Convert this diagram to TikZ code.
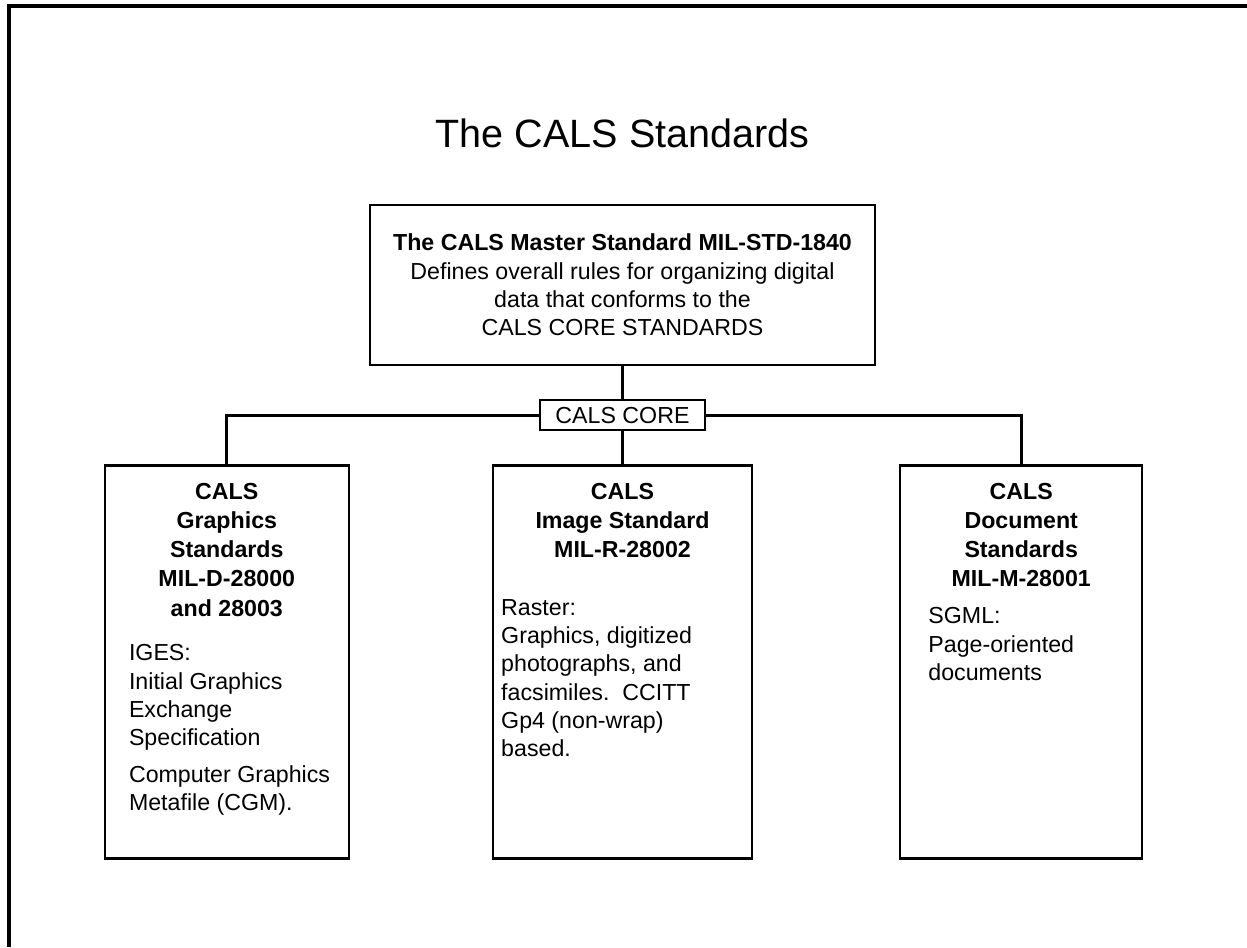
\documentclass[tikz,border=0pt]{standalone}
\usepackage{fontspec}
\setmainfont{Liberation Sans}
\usetikzlibrary{positioning}

\begin{document}
\begin{tikzpicture}[x=0.02cm,y=-0.02cm,
  box/.style={draw,line width=1.3pt,inner sep=0pt},
  lowbox/.style={box,minimum width=4.88cm,minimum height=7.86cm},
  head/.style={font=\fontsize{13.2}{16.6}\selectfont\bfseries,align=center,inner sep=0pt},
  body/.style={font=\fontsize{13.2}{16}\selectfont,align=left,inner sep=0pt},
  link/.style={line width=1.5pt}
]
\useasboundingbox (0,0) rectangle (1247,947);
% page frame
\draw[line width=2.8pt] (1247,6) -- (9,6) -- (9,947);

\node[font=\fontsize{22.5}{27}\selectfont] (title) at (622.5,133) {The CALS Standards};
\node[box,minimum width=10.1cm,minimum height=3.2cm,align=center,
      font=\fontsize{13.2}{16.1}\selectfont] (master) at (622.5,285)
  {\textbf{The CALS Master Standard MIL-STD-1840}\\
   Defines overall rules for organizing digital\\
   data that conforms to the\\
   CALS CORE STANDARDS};
\node[box,minimum width=3.3cm,minimum height=0.6cm,
      font=\fontsize{13.2}{16}\selectfont,below=0.66cm of master] (core) {CALS CORE};

% the three core standards
\node[lowbox,minimum width=5.18cm,below=0.66cm of core] (image) {};
\node[lowbox,left=2.84cm of image] (graphics) {};
\node[lowbox,minimum width=4.84cm,right=2.92cm of image] (document) {};

\node[head,anchor=north] (graphicsHead) at ([yshift=-0.37cm]graphics.north)
  {CALS\\Graphics\\Standards\\MIL-D-28000\\and 28003};
\node[body,anchor=north west] (graphicsBody) at ([xshift=0.5cm,yshift=-3.6cm]graphics.north west)
  {IGES:\\Initial Graphics\\Exchange\\Specification\\[0.18cm]
   Computer Graphics\\Metafile (CGM).};

\node[head,anchor=north] (imageHead) at ([yshift=-0.37cm]image.north)
  {CALS\\Image Standard\\MIL-R-28002};
\node[body,anchor=north west] (imageBody) at ([xshift=0.18cm,yshift=-2.7cm]image.north west)
  {Raster:\\Graphics, digitized\\photographs, and\\facsimiles.\ \ CCITT\\
   Gp4 (non-wrap)\\based.};

\node[head,anchor=north] (documentHead) at ([yshift=-0.37cm]document.north)
  {CALS\\Document\\Standards\\MIL-M-28001};
\node[body,anchor=north west] (documentBody) at ([xshift=0.58cm,yshift=-2.86cm]document.north west)
  {SGML:\\Page-oriented\\documents};

\draw[link] (master) -- (core);
\draw[link] (core) -- (image);
\draw[link] (core.west) -| (graphics.north);
\draw[link] (core.east) -| (document.north);
\end{tikzpicture}
\end{document}
